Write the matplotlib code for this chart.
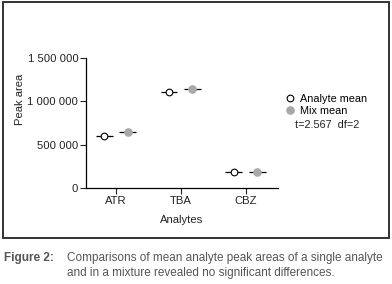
import matplotlib
matplotlib.use("Agg")
import matplotlib.pyplot as plt
from matplotlib import font_manager
from matplotlib.patches import Rectangle
import numpy as np

# data
analytes = ["ATR", "TBA", "CBZ"]
analyte_mean = [600000, 1112000, 190000]
mix_mean = [650000, 1138000, 190000]
y_ticks = [0, 500000, 1000000, 1500000]
y_ticklabels = ["0", "500 000", "1 000 000", "1 500 000"]

names = {f.name for f in font_manager.fontManager.ttflist}
family = "Liberation Sans Narrow" if "Liberation Sans Narrow" in names else "Liberation Sans"
plt.rcParams["font.family"] = [family, "DejaVu Sans"]
plt.rcParams["font.size"] = 8

W, H = 392, 284
fig = plt.figure(figsize=(W / 100, H / 100), dpi=100)

# frame round the chart
fig.patches.append(Rectangle((3 / W, 1 - 238 / H), 386 / W, 236 / H,
                             transform=fig.transFigure, fill=False,
                             edgecolor="#222222", linewidth=1.3))

ax = fig.add_axes([86 / W, 1 - 188 / H, (278 - 86) / W, (188 - 58) / H])

x = np.arange(1, len(analytes) + 1)
off = 0.18
half = 0.13

ax.hlines(analyte_mean, x - off - half, x - off + half, colors="black", linewidth=0.9, zorder=2)
ax.hlines(mix_mean, x + off - half, x + off + half, colors="black", linewidth=0.9, zorder=2)
ax.plot(x - off, analyte_mean, "o", ms=4.8, mfc="white", mec="black", mew=0.8,
        linestyle="none", zorder=3, label="Analyte mean")
ax.plot(x + off, mix_mean, "o", ms=5.2, mfc="#a8a8a8", mec="#a8a8a8",
        linestyle="none", zorder=3, label="Mix mean")

ax.set_xlim(0.54, 3.5)
ax.set_ylim(0, 1500000)
ax.set_xticks(x)
ax.set_xticklabels(analytes)
ax.set_yticks(y_ticks)
ax.set_yticklabels(y_ticklabels)
ax.tick_params(length=4, width=0.8, pad=1.5, labelsize=8.1, colors="#222222")
for s in ["top", "right"]:
    ax.spines[s].set_visible(False)
for s in ["left", "bottom"]:
    ax.spines[s].set_linewidth(0.9)

ax.set_xlabel("Analytes", fontsize=8.1, labelpad=7, color="#222222")
ax.set_ylabel("Peak area", fontsize=8.1, color="#222222")
ax.yaxis.set_label_coords(-0.32, 0.68)

leg = ax.legend(loc="upper left", bbox_to_anchor=(1.025, 0.76), frameon=False,
                handlelength=0.6, handletextpad=0.55, borderaxespad=0,
                labelspacing=0.2, fontsize=7.8)
fig.text(295 / W, 1 - 125 / H, "t=2.567  df=2", fontsize=7.8, va="center", color="#222222")

cap = "#555555"
fig.text(4 / W, 1 - 258 / H, "Figure 2:", fontsize=8.5, fontweight="bold", va="center", color=cap)
fig.text(67 / W, 1 - 258 / H, "Comparisons of mean analyte peak areas of a single analyte",
         fontsize=8.5, va="center", color=cap)
fig.text(67 / W, 1 - 273 / H, "and in a mixture revealed no significant differences.",
         fontsize=8.5, va="center", color=cap)

fig.savefig("out.png", dpi=100)
